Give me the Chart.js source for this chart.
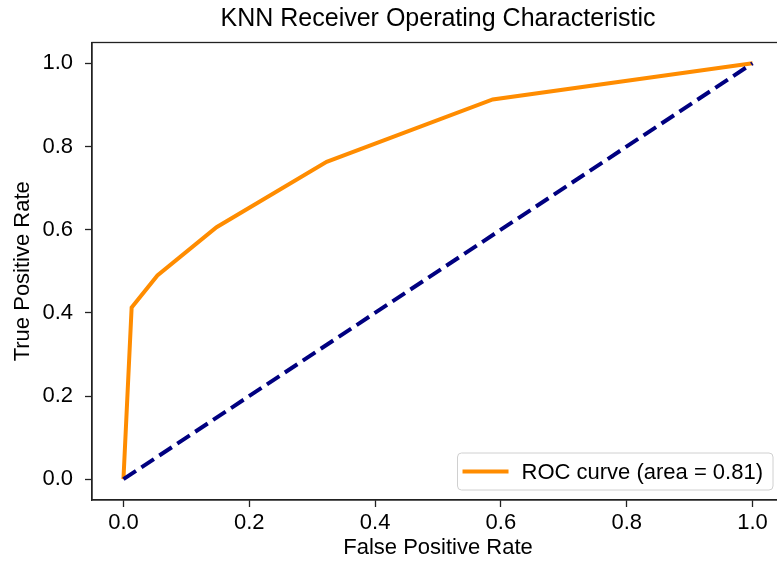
<!DOCTYPE html>
<html lang="en">
<head>
  <meta charset="UTF-8" />
  <title>KNN Receiver Operating Characteristic</title>
  <script src="https://cdn.jsdelivr.net/npm/chart.js"></script>
  <style>
    body {
      margin: 0;
      background: white;
      overflow: hidden;
    }
    #chartContainer {
      width: 777px;
      height: 562px;
      overflow: hidden;
    }
  </style>
</head>
<body>
  <div id="chartContainer">
    <canvas id="rocChart" width="800" height="562"></canvas>
  </div>

  <script>
    // ROC curve
    const fpr = [0, 0.013, 0.054, 0.148, 0.323, 0.587, 1];
    const tpr = [0, 0.413, 0.49, 0.606, 0.763, 0.913, 1];
    const chanceX = [0, 1];
    const chanceY = [0, 1];
    const tickValues = [0, 0.2, 0.4, 0.6, 0.8, 1.0];
    const rocLabel = "ROC curve (area = 0.81)";

    const FONT = "'Liberation Sans', Arial, sans-serif";

    const toPoints = (xs, ys) => xs.map((x, i) => ({ x: x, y: ys[i] }));

    // matplotlib style box around the axes
    const frame = {
      id: "frame",
      afterDatasetsDraw(chart) {
        const { ctx, chartArea: a } = chart;
        ctx.save();
        ctx.strokeStyle = "#222";
        ctx.lineWidth = 1.3;
        ctx.strokeRect(a.left, a.top, a.right - a.left, a.bottom - a.top);
        ctx.restore();
      }
    };

    // legend box in the lower right corner of the axes
    const cornerLegend = {
      id: "cornerLegend",
      afterDraw(chart) {
        const { ctx, chartArea: a } = chart;
        const ds = chart.data.datasets.find(d => d.label === rocLabel);
        ctx.save();
        ctx.font = "22px " + FONT;
        const tw = ctx.measureText(ds.label).width;
        const w = 5 + 46 + 13 + tw + 10;
        const h = 37;
        const x = a.right - 11 - w;
        const y = a.bottom - 10 - h;
        ctx.beginPath();
        ctx.roundRect(x, y, w, h, 4);
        ctx.fillStyle = "rgba(255,255,255,0.85)";
        ctx.fill();
        ctx.strokeStyle = "#d0d0d0";
        ctx.lineWidth = 1;
        ctx.stroke();
        ctx.beginPath();
        ctx.moveTo(x + 5, y + h / 2);
        ctx.lineTo(x + 51, y + h / 2);
        ctx.strokeStyle = ds.borderColor;
        ctx.lineWidth = ds.borderWidth;
        ctx.stroke();
        ctx.fillStyle = "#000";
        ctx.textBaseline = "middle";
        ctx.fillText(ds.label, x + 64, y + h / 2 + 1);
        ctx.restore();
      }
    };

    const fixedTicks = scale => {
      scale.ticks = tickValues.map(v => ({ value: v }));
    };

    new Chart(document.getElementById("rocChart"), {
      type: "line",
      data: {
        datasets: [
          {
            label: rocLabel,
            data: toPoints(fpr, tpr),
            borderColor: "#ff8c00",
            borderWidth: 4,
            pointRadius: 0,
            tension: 0,
            order: 1
          },
          {
            label: "chance",
            data: toPoints(chanceX, chanceY),
            borderColor: "#000080",
            borderWidth: 4,
            borderDash: [15, 6.5],
            pointRadius: 0,
            order: 0
          }
        ]
      },
      options: {
        responsive: false,
        animation: false,
        layout: { padding: { right: 16 } },
        scales: {
          x: {
            type: "linear",
            min: -0.05,
            max: 1.05,
            afterBuildTicks: fixedTicks,
            afterFit: s => { s.height = 62; },
            grid: { drawOnChartArea: false, tickLength: 7, color: "#222", tickWidth: 1.3 },
            border: { color: "#222", width: 1.3 },
            ticks: {
              color: "#000",
              padding: 3,
              font: { family: FONT, size: 22 },
              callback: v => v.toFixed(1)
            },
            title: {
              display: true,
              text: "False Positive Rate",
              color: "#000",
              font: { family: FONT, size: 22 },
              padding: { top: 0, bottom: 1 }
            }
          },
          y: {
            type: "linear",
            min: -0.05,
            max: 1.05,
            afterBuildTicks: fixedTicks,
            afterFit: s => { s.width = 92; },
            grid: { drawOnChartArea: false, tickLength: 7, color: "#222", tickWidth: 1.3 },
            border: { color: "#222", width: 1.3 },
            ticks: {
              color: "#000",
              padding: 12,
              font: { family: FONT, size: 22 },
              callback: v => v.toFixed(1)
            },
            title: {
              display: true,
              text: "True Positive Rate",
              color: "#000",
              font: { family: FONT, size: 22 },
              padding: { top: 10, bottom: 0 }
            }
          }
        },
        plugins: {
          legend: { display: false },
          tooltip: { enabled: false },
          title: {
            display: true,
            text: "KNN Receiver Operating Characteristic",
            color: "#000",
            fullSize: false,
            font: { family: FONT, size: 25, weight: "normal" },
            padding: { top: 4, bottom: 8.5 }
          }
        }
      },
      plugins: [frame, cornerLegend]
    });
  </script>
</body>
</html>
